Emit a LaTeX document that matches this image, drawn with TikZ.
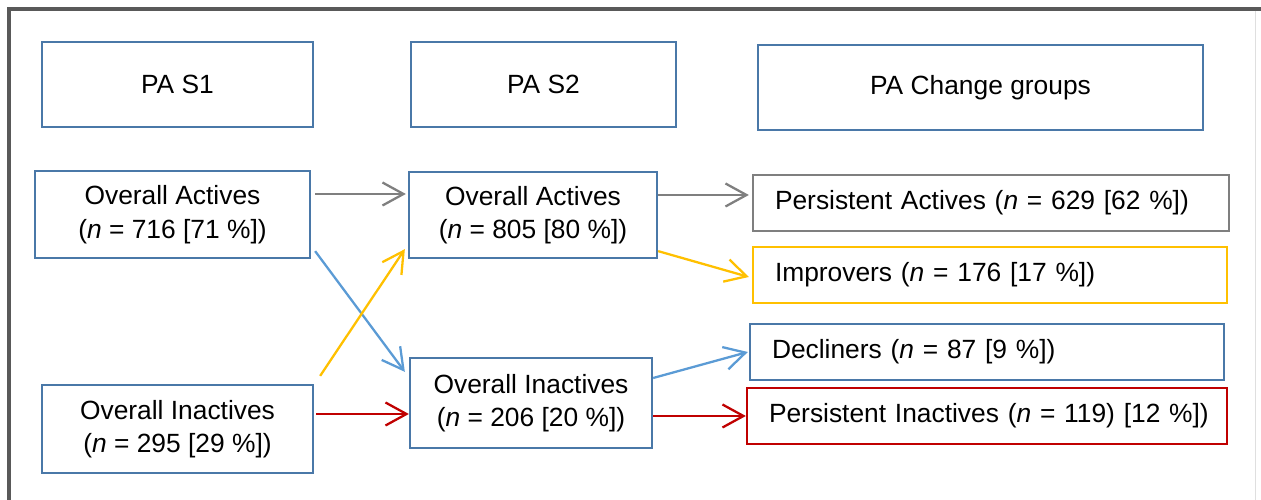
\documentclass[tikz,border=0pt]{standalone}
\usepackage{fontspec}
\setmainfont{Liberation Sans}
\usetikzlibrary{arrows.meta}

\definecolor{boxblue}{HTML}{4A78A8}
\definecolor{arrblue}{HTML}{5B9BD5}
\definecolor{arrgray}{HTML}{7F7F7F}
\definecolor{arryellow}{HTML}{FFC000}
\definecolor{arrred}{HTML}{C00000}
\definecolor{framegray}{HTML}{595959}

\tikzset{
  box/.style={draw=boxblue, line width=1.3pt, align=center, inner sep=2pt,
    font=\fontsize{15}{19}\selectfont},
  group/.style={box, text width=#1, align=left, inner xsep=0.44cm, minimum height=1.12cm},
  arr/.style={line width=1.3pt, -{Straight Barb[length=0.42cm,width=0.46cm]}},
}

\begin{document}
\begin{tikzpicture}
    \useasboundingbox (0,0) rectangle (25.22,-10);

    % frame
    \draw[framegray, line width=0.08cm] (0.18,-10) -- (0.18,-0.18) -- (25.22,-0.18);
    \draw[gray!25, line width=0.5pt] (25.1,-0.22) -- (25.1,-10);

    % headers
    \node[box, minimum width=5.42cm, minimum height=1.70cm] (hS1) at (3.55,-1.69) {PA S1};
    \node[box, minimum width=5.30cm, minimum height=1.70cm] (hS2) at (10.87,-1.69) {PA S2};
    \node[box, minimum width=8.90cm, minimum height=1.70cm] (hChange) at (19.61,-1.75) {PA Change groups};

    % survey 1
    \node[box, minimum width=5.50cm, minimum height=1.74cm] (actS1) at (3.45,-4.29)
        {Overall Actives\\(\textit{n} = 716 [71 \%])};
    \node[box, minimum width=5.42cm, minimum height=1.76cm] (inactS1) at (3.55,-8.58)
        {Overall Inactives\\(\textit{n} = 295 [29 \%])};

    % survey 2
    \node[box, minimum width=4.96cm, minimum height=1.72cm] (actS2) at (10.66,-4.30)
        {Overall Actives\\(\textit{n} = 805 [80 \%])};
    \node[box, minimum width=4.84cm, minimum height=1.80cm] (inactS2) at (10.62,-8.06)
        {Overall Inactives\\(\textit{n} = 206 [20 \%])};

    % change groups
    \node[group=8.64cm, draw=arrgray] (persAct) at (19.82,-4.06)
        {Persistent Actives (\textit{n} = 629 [62 \%])};
    \node[group=8.60cm, draw=arryellow] (improv) at (19.80,-5.50)
        {Improvers (\textit{n} = 176 [17 \%])};
    \node[group=8.60cm] (declin) at (19.74,-7.04)
        {Decliners (\textit{n} = 87 [9 \%])};
    \node[group=8.72cm, draw=arrred] (persInact) at (19.74,-8.32)
        {\mbox{Persistent Inactives (\textit{n} = 119) [12 \%])}};

    % S1 -> S2
    \draw[arr, arrgray] ([xshift=0.08cm]actS1.east |- 0,-3.88) -- ([xshift=-0.04cm]actS2.west |- 0,-3.88);
    \draw[arr, arrblue] ([shift={(0.08,0.16)}]actS1.south east) -- ([shift={(-0.08,-0.30)}]inactS2.north west);
    \draw[arr, arryellow] ([shift={(0.12,0.16)}]inactS1.north east) -- ([shift={(-0.06,0.20)}]actS2.south west);
    \draw[arr, arrred] ([xshift=0.04cm]inactS1.east |- 0,-8.28) -- (inactS2.west |- 0,-8.28);

    % S2 -> change groups
    \draw[arr, arrgray] (actS2.east |- 0,-3.90) -- ([xshift=-0.06cm]persAct.west |- 0,-3.90);
    \draw[arr, arryellow] ([yshift=0.16cm]actS2.south east) -- ([shift={(-0.06,-0.04)}]improv.west);
    \draw[arr, arrblue] ([yshift=0.5cm]inactS2.east) -- ([xshift=-0.02cm]declin.west);
    \draw[arr, arrred] (inactS2.east |- persInact.west) -- (persInact.west);
\end{tikzpicture}
\end{document}
